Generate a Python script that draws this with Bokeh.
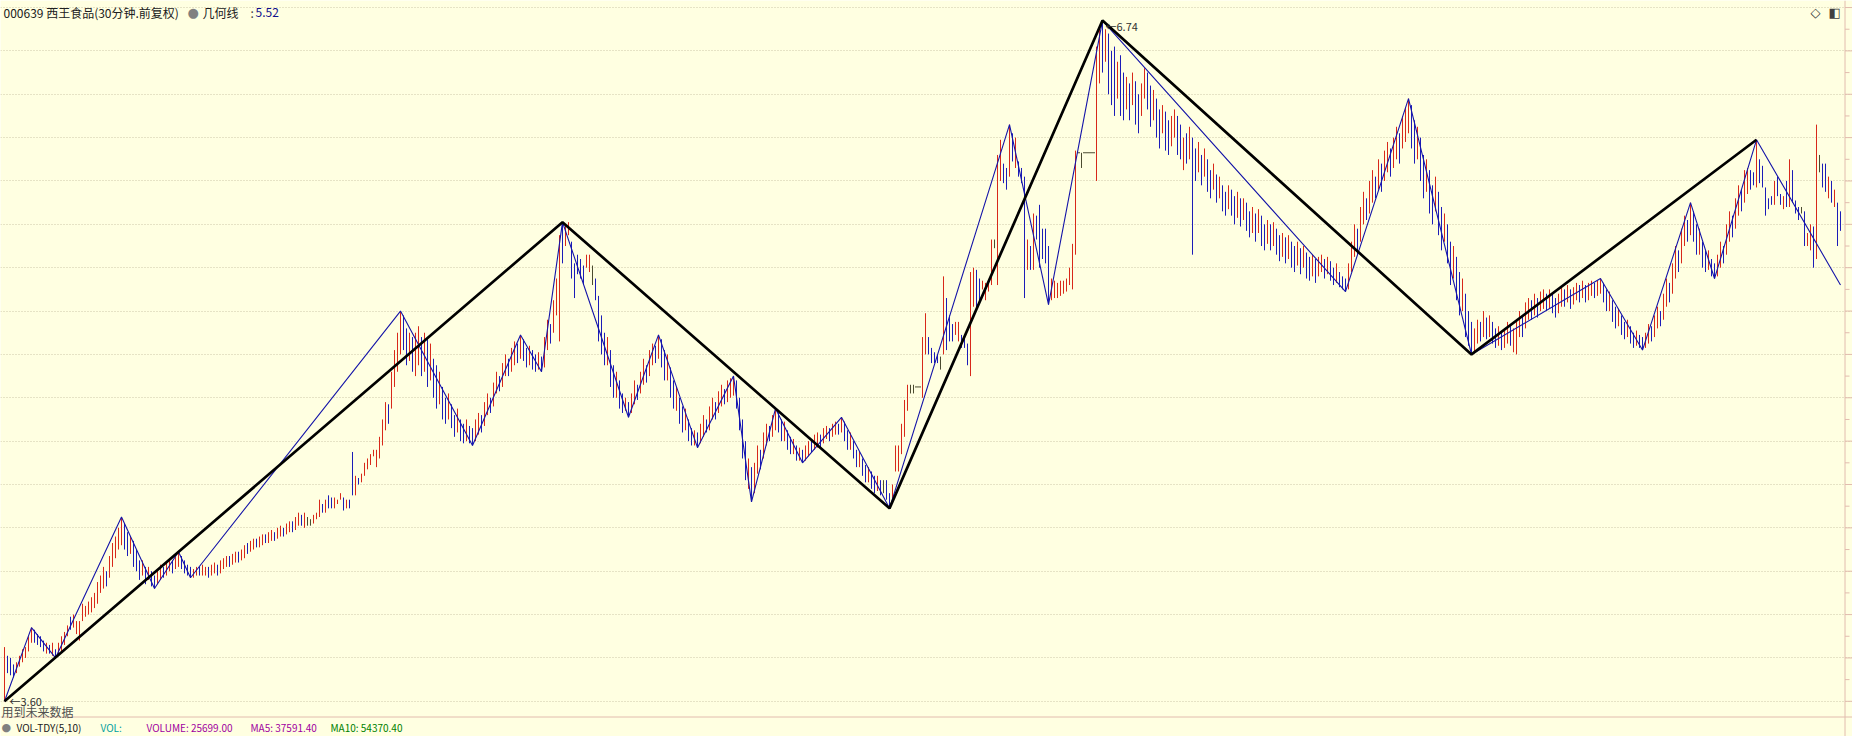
from bokeh.plotting import figure
from bokeh.models import Range1d, Label, Span, FixedTicker, Grid, ColumnDataSource
from bokeh.embed import file_html
from bokeh.resources import INLINE

# ---------------- data (30-minute bars) ----------------
bar_high = [
    3.85, 3.81, 3.80, 3.77, 3.78, 3.81, 3.84, 3.85, 3.90, 3.94,
    3.93, 3.91, 3.90, 3.88, 3.87, 3.86, 3.87, 3.84, 3.87, 3.90,
    3.92, 3.95, 3.99, 4.00, 3.97, 3.97, 4.05, 4.04, 4.06, 4.08,
    4.10, 4.15, 4.18, 4.22, 4.20, 4.27, 4.33, 4.36, 4.40, 4.45,
    4.42, 4.38, 4.36, 4.34, 4.30, 4.25, 4.25, 4.22, 4.22, 4.20,
    4.18, 4.20, 4.23, 4.22, 4.24, 4.26, 4.25, 4.27, 4.29, 4.27,
    4.25, 4.23, 4.22, 4.21, 4.22, 4.22, 4.23, 4.22, 4.22, 4.23,
    4.24, 4.23, 4.25, 4.26, 4.27, 4.27, 4.28, 4.29, 4.29, 4.30,
    4.32, 4.33, 4.34, 4.35, 4.35, 4.36, 4.37, 4.37, 4.38, 4.39,
    4.38, 4.40, 4.41, 4.40, 4.42, 4.43, 4.43, 4.45, 4.47, 4.46,
    4.47, 4.45, 4.44, 4.46, 4.47, 4.53, 4.51, 4.53, 4.55, 4.54,
    4.54, 4.53, 4.56, 4.54, 4.53, 4.53, 4.75, 4.64, 4.63, 4.65,
    4.70, 4.72, 4.74, 4.76, 4.76, 4.82, 4.90, 4.98, 4.97, 5.12,
    5.22, 5.30, 5.40, 5.38, 5.32, 5.30, 5.28, 5.30, 5.33, 5.28,
    5.30, 5.27, 5.25, 5.18, 5.15, 5.12, 5.05, 5.00, 5.02, 4.97,
    4.92, 4.95, 4.90, 4.88, 4.90, 4.87, 4.86, 4.90, 4.93, 4.92,
    4.98, 5.02, 5.00, 5.07, 5.12, 5.10, 5.16, 5.20, 5.18, 5.23,
    5.26, 5.25, 5.29, 5.27, 5.23, 5.24, 5.22, 5.20, 5.21, 5.19,
    5.28, 5.36, 5.34, 5.45, 5.55, 5.75, 5.81, 5.80, 5.81, 5.72,
    5.62, 5.66, 5.64, 5.61, 5.66, 5.66, 5.61, 5.55, 5.47, 5.38,
    5.30, 5.28, 5.22, 5.15, 5.12, 5.08, 5.02, 5.00, 4.98, 5.02,
    5.08, 5.06, 5.12, 5.18, 5.15, 5.22, 5.25, 5.24, 5.29, 5.27,
    5.22, 5.20, 5.14, 5.08, 5.05, 5.00, 4.96, 4.95, 4.90, 4.86,
    4.85, 4.84, 4.88, 4.92, 4.90, 4.96, 5.00, 4.98, 5.03, 5.06,
    5.04, 5.08, 5.09, 5.10, 5.08, 5.00, 4.90, 4.80, 4.72, 4.68,
    4.70, 4.78, 4.76, 4.84, 4.88, 4.87, 4.92, 4.95, 4.93, 4.90,
    4.89, 4.85, 4.82, 4.81, 4.78, 4.77, 4.76, 4.78, 4.80, 4.80,
    4.83, 4.84, 4.83, 4.86, 4.87, 4.86, 4.88, 4.89, 4.88, 4.91,
    4.89, 4.85, 4.84, 4.80, 4.76, 4.75, 4.72, 4.69, 4.68, 4.66,
    4.64, 4.64, 4.62, 4.62, 4.62, 4.56, 4.60, 4.78, 4.78, 4.88,
    4.99, 5.06, 5.06, 5.06, 5.05, 5.05, 5.28, 5.39, 5.28, 5.23,
    5.21, 5.20, 5.19, 5.56, 5.46, 5.38, 5.34, 5.35, 5.35, 5.29,
    5.28, 5.25, 5.58, 5.60, 5.59, 5.55, 5.54, 5.53, 5.54, 5.73,
    5.73, 6.12, 6.19, 6.08, 6.06, 6.26, 6.22, 6.20, 6.09, 6.06,
    6.02, 5.73, 5.70, 5.85, 5.84, 5.89, 5.78, 5.78, 5.70, 5.55,
    5.54, 5.53, 5.54, 5.54, 5.55, 5.60, 5.71, 6.14, 6.13, 6.13,
    6.13, 6.13, 6.13, 6.13, 6.62, 6.70, 6.74, 6.70, 6.68, 6.60,
    6.62, 6.55, 6.58, 6.50, 6.48, 6.45, 6.50, 6.46, 6.40, 6.45,
    6.52, 6.50, 6.44, 6.42, 6.38, 6.33, 6.35, 6.32, 6.28, 6.30,
    6.33, 6.30, 6.26, 6.20, 6.22, 6.25, 6.20, 6.15, 6.18, 6.12,
    6.15, 6.10, 6.05, 6.08, 6.03, 6.02, 5.98, 5.95, 5.98, 5.96,
    5.93, 5.95, 5.92, 5.92, 5.90, 5.86, 5.88, 5.85, 5.87, 5.84,
    5.80, 5.82, 5.80, 5.81, 5.78, 5.75, 5.76, 5.74, 5.75, 5.72,
    5.70, 5.72, 5.69, 5.70, 5.67, 5.65, 5.66, 5.64, 5.65, 5.66,
    5.64, 5.65, 5.63, 5.60, 5.62, 5.58, 5.56, 5.55, 5.62, 5.72,
    5.80, 5.78, 5.88, 5.95, 5.92, 6.00, 6.05, 6.02, 6.10, 6.08,
    6.14, 6.18, 6.15, 6.20, 6.25, 6.22, 6.30, 6.34, 6.38, 6.35,
    6.28, 6.25, 6.20, 6.12, 6.10, 6.05, 5.98, 6.02, 5.95, 5.88,
    5.85, 5.80, 5.72, 5.70, 5.65, 5.58, 5.55, 5.48, 5.40, 5.35,
    5.32, 5.36, 5.35, 5.40, 5.37, 5.38, 5.35, 5.32, 5.33, 5.30,
    5.32, 5.35, 5.33, 5.32, 5.36, 5.40, 5.38, 5.44, 5.46, 5.45,
    5.48, 5.46, 5.49, 5.50, 5.48, 5.50, 5.48, 5.46, 5.48, 5.51,
    5.50, 5.52, 5.50, 5.51, 5.53, 5.52, 5.54, 5.52, 5.53, 5.54,
    5.53, 5.54, 5.55, 5.53, 5.50, 5.49, 5.45, 5.42, 5.41, 5.38,
    5.35, 5.36, 5.33, 5.30, 5.31, 5.29, 5.28, 5.30, 5.34, 5.33,
    5.38, 5.42, 5.40, 5.48, 5.55, 5.53, 5.62, 5.70, 5.68, 5.78,
    5.84, 5.82, 5.90, 5.86, 5.80, 5.78, 5.72, 5.68, 5.68, 5.64,
    5.62, 5.66, 5.72, 5.70, 5.80, 5.86, 5.84, 5.92, 5.98, 5.96,
    6.05, 6.06, 6.05, 6.04, 6.19, 6.10, 6.07, 5.97, 5.92, 5.93,
    6.00, 6.02, 5.94, 5.93, 6.00, 6.10, 6.05, 5.91, 5.88, 5.88,
    5.86, 5.76, 5.80, 5.79, 6.26, 6.12, 6.08, 6.08, 6.02, 6.00,
    5.96, 5.90, 5.86,
]
bar_low = [
    3.60, 3.73, 3.72, 3.71, 3.73, 3.76, 3.78, 3.80, 3.83, 3.87,
    3.87, 3.86, 3.85, 3.83, 3.82, 3.82, 3.81, 3.80, 3.81, 3.83,
    3.86, 3.90, 3.93, 3.94, 3.91, 3.88, 3.97, 3.99, 4.00, 4.01,
    4.03, 4.05, 4.10, 4.12, 4.13, 4.17, 4.22, 4.26, 4.30, 4.32,
    4.30, 4.27, 4.28, 4.22, 4.20, 4.16, 4.18, 4.14, 4.16, 4.13,
    4.12, 4.14, 4.16, 4.17, 4.18, 4.20, 4.19, 4.21, 4.22, 4.21,
    4.19, 4.18, 4.17, 4.17, 4.18, 4.18, 4.18, 4.18, 4.17, 4.18,
    4.19, 4.18, 4.19, 4.21, 4.22, 4.22, 4.23, 4.24, 4.24, 4.25,
    4.26, 4.28, 4.29, 4.30, 4.31, 4.31, 4.32, 4.33, 4.33, 4.34,
    4.34, 4.35, 4.36, 4.36, 4.37, 4.38, 4.38, 4.39, 4.41, 4.41,
    4.40, 4.41, 4.41, 4.42, 4.44, 4.45, 4.47, 4.47, 4.49, 4.49,
    4.49, 4.51, 4.53, 4.48, 4.49, 4.49, 4.55, 4.55, 4.60, 4.61,
    4.64, 4.67, 4.69, 4.73, 4.68, 4.72, 4.78, 4.85, 4.88, 4.95,
    5.05, 5.12, 5.20, 5.22, 5.15, 5.17, 5.12, 5.10, 5.15, 5.10,
    5.12, 5.05, 5.08, 5.00, 4.95, 4.97, 4.90, 4.88, 4.90, 4.86,
    4.82, 4.84, 4.80, 4.79, 4.80, 4.79, 4.78, 4.80, 4.83, 4.84,
    4.87, 4.92, 4.93, 4.96, 5.02, 5.03, 5.05, 5.10, 5.10, 5.12,
    5.15, 5.16, 5.18, 5.17, 5.14, 5.15, 5.13, 5.12, 5.13, 5.12,
    5.14, 5.22, 5.25, 5.30, 5.38, 5.26, 5.62, 5.70, 5.75, 5.55,
    5.46, 5.57, 5.55, 5.52, 5.60, 5.58, 5.52, 5.45, 5.26, 5.20,
    5.15, 5.15, 5.05, 5.00, 5.00, 4.95, 4.93, 4.94, 4.91, 4.93,
    4.97, 4.99, 5.02, 5.06, 5.07, 5.10, 5.15, 5.16, 5.18, 5.14,
    5.08, 5.08, 5.00, 4.95, 4.94, 4.88, 4.84, 4.85, 4.80, 4.78,
    4.78, 4.77, 4.79, 4.82, 4.84, 4.85, 4.90, 4.90, 4.93, 4.96,
    4.97, 4.98, 5.00, 5.01, 4.95, 4.85, 4.72, 4.62, 4.58, 4.52,
    4.56, 4.65, 4.67, 4.72, 4.78, 4.80, 4.82, 4.85, 4.84, 4.80,
    4.80, 4.76, 4.74, 4.74, 4.71, 4.71, 4.70, 4.71, 4.73, 4.75,
    4.76, 4.77, 4.77, 4.79, 4.81, 4.80, 4.82, 4.83, 4.83, 4.84,
    4.80, 4.76, 4.76, 4.72, 4.68, 4.68, 4.64, 4.61, 4.61, 4.58,
    4.56, 4.57, 4.55, 4.56, 4.53, 4.49, 4.51, 4.66, 4.66, 4.74,
    4.82, 4.94, 5.02, 5.02, 5.05, 5.05, 5.00, 5.20, 5.20, 5.16,
    5.16, 5.16, 5.13, 5.20, 5.22, 5.26, 5.26, 5.29, 5.26, 5.23,
    5.23, 5.15, 5.10, 5.42, 5.40, 5.45, 5.50, 5.45, 5.49, 5.52,
    5.69, 5.52, 6.00, 5.99, 5.96, 6.02, 6.09, 6.06, 6.02, 5.99,
    5.46, 5.59, 5.59, 5.59, 5.73, 5.60, 5.64, 5.62, 5.43, 5.45,
    5.46, 5.46, 5.47, 5.48, 5.49, 5.52, 5.50, 5.66, 6.13, 6.06,
    6.13, 6.13, 6.13, 6.13, 6.00, 6.45, 6.50, 6.55, 6.40, 6.35,
    6.30, 6.38, 6.30, 6.28, 6.33, 6.28, 6.35, 6.26, 6.22, 6.30,
    6.38, 6.33, 6.25, 6.28, 6.20, 6.15, 6.22, 6.14, 6.12, 6.16,
    6.20, 6.12, 6.10, 6.05, 6.08, 6.10, 5.66, 6.00, 6.04, 5.98,
    6.02, 5.95, 5.92, 5.96, 5.90, 5.92, 5.86, 5.84, 5.87, 5.84,
    5.80, 5.83, 5.79, 5.82, 5.77, 5.74, 5.76, 5.72, 5.76, 5.70,
    5.68, 5.71, 5.68, 5.70, 5.66, 5.63, 5.65, 5.62, 5.64, 5.60,
    5.58, 5.61, 5.57, 5.60, 5.55, 5.54, 5.56, 5.53, 5.56, 5.58,
    5.55, 5.57, 5.54, 5.52, 5.53, 5.51, 5.50, 5.49, 5.50, 5.58,
    5.65, 5.66, 5.72, 5.80, 5.82, 5.85, 5.90, 5.92, 5.96, 5.95,
    6.00, 6.04, 6.02, 6.06, 6.10, 6.08, 6.15, 6.18, 6.22, 6.15,
    6.08, 6.10, 6.00, 5.92, 5.95, 5.85, 5.80, 5.86, 5.75, 5.68,
    5.72, 5.62, 5.52, 5.55, 5.45, 5.38, 5.40, 5.28, 5.24, 5.20,
    5.21, 5.25, 5.26, 5.28, 5.27, 5.28, 5.25, 5.23, 5.24, 5.22,
    5.23, 5.25, 5.24, 5.21, 5.20, 5.28, 5.28, 5.32, 5.36, 5.36,
    5.38, 5.37, 5.40, 5.41, 5.40, 5.41, 5.39, 5.37, 5.39, 5.42,
    5.42, 5.44, 5.41, 5.43, 5.45, 5.44, 5.46, 5.44, 5.45, 5.47,
    5.46, 5.47, 5.48, 5.44, 5.40, 5.40, 5.35, 5.32, 5.33, 5.29,
    5.27, 5.28, 5.25, 5.23, 5.24, 5.23, 5.22, 5.23, 5.25, 5.26,
    5.28, 5.32, 5.33, 5.36, 5.42, 5.44, 5.48, 5.55, 5.58, 5.62,
    5.70, 5.72, 5.75, 5.72, 5.66, 5.66, 5.60, 5.58, 5.59, 5.56,
    5.55, 5.56, 5.60, 5.62, 5.66, 5.72, 5.74, 5.78, 5.84, 5.86,
    5.90, 5.94, 5.96, 5.98, 5.97, 5.99, 5.97, 5.84, 5.87, 5.89,
    5.89, 5.93, 5.89, 5.87, 5.88, 5.88, 5.90, 5.85, 5.82, 5.85,
    5.70, 5.70, 5.68, 5.60, 5.64, 6.04, 5.97, 5.95, 5.92, 5.90,
    5.88, 5.70, 5.77,
]
bar_kind = (
    "rbbbrrrrrr" "bbbbrbrbrr" "rrbrrrrrrr" "rrrrbrrrrr" "bbrbbbrbrb"
    "brrbrrbrrb" "bbbrrbrrbr" "rbrrrbrrbr" "rbrrbrrbrr" "brrbrrbrrb"
    "rddrrrbrbb" "rrrbrbbrbr" "rrrrrrrrbr" "rrrbbrbrrb" "rbrbbrbbrb"
    "brbbrbbrrb" "rrbrrbrrbr" "rbrbbrbbrb" "rrbrrrbrrb" "bbbbrrdbbb"
    "brbbrbbrbr" "rbrrbrrbrb" "brbbrbbrbb" "rbrrbrrbrr" "brrrbbbbrb"
    "rrbrrbrrbb" "rbbrbrbrrb" "rrbrrbrrbr" "bbrbbrbbrb" "brbdbbrrrr"
    "rrddddrrbb" "bbdrbbbrrb" "bbrrbbrrrr" "drrbbrbrbb" "brbrbbbbbr"
    "rrrrrrrrdd" "ddddrrbrbb" "brbbrbrbbr" "rbbrbbrbbr" "rbbrbrbbrb"
    "rbbrbrbbrb" "brbrbbrbrb" "brbrbbrbrb" "brbrbbrbrr" "brbbrbbbrr"
    "rbrrbrrbrb" "rrbrrbrrrb" "brbbrbbrbb" "rbbrbbrbbb" "rrbrbrbbrb"
    "rrbrrrbrrb" "rbrrbrbbrr" "brbrrbrbrr" "brrbbrbbrb" "brbbrbbrrb"
    "rrbrrbrrbr" "rbrbbrbbrb" "brrbrrbrrb" "rrbbrbbbbb" "rbbrbrbbbd"
    "brrbrdbbrb" "rbb"
)

blue_idx = [0, 9, 17, 39, 50, 58, 62, 132, 156, 172, 179, 186, 208, 218, 231, 243, 249, 257, 266, 279,
            295, 335, 348, 366, 447, 468, 489, 532, 546, 562, 570, 584, 612]
blue_px = [3.60, 3.94, 3.80, 4.45, 4.12, 4.29, 4.17, 5.40, 4.78, 5.29, 5.12, 5.81, 4.91, 5.29, 4.77, 5.10,
           4.52, 4.95, 4.70, 4.91, 4.49, 6.26, 5.43, 6.74, 5.49, 6.38, 5.20, 5.55, 5.22, 5.90, 5.55, 6.19, 5.52]
black_idx = [0, 186, 295, 366, 489, 584]
black_px = [3.60, 5.81, 4.49, 6.74, 5.20, 6.19]

grid_prices = [3.6, 3.8, 4.0, 4.2, 4.4, 4.6, 4.8, 5.0, 5.2, 5.4, 5.6, 5.8, 6.0, 6.2, 6.4, 6.6, 6.8]

title_text = "000639 西王食品(30分钟.前复权)"
ind_name = "几何线"
ind_value = "5.52"
high_label = "←6.74"
low_label = "←3.60"
warn_text = "用到未来数据"
vol_texts = [("VOL-TDY(5,10)", "#202020"), ("VOL:", "#00a0a0"), ("VOLUME: 25699.00", "#a000a0"),
             ("MA5: 37591.40", "#a000a0"), ("MA10: 54370.40", "#008000")]

# ---------------- layout ----------------
W, H = 1852, 736
STEP = 3.0                      # px per bar
x_start = -4.0 / STEP           # first bar 4 px from the left edge
x_end = x_start + W / STEP
PPU = 216.8                     # px per price unit
y_top = 3.6 + 700.8 / PPU       # price 3.60 sits 700.8 px from the top
y_bot = y_top - H / PPU


def xd(fx):
    return x_start + fx / STEP


def yd(fy):
    return y_top - fy / PPU


BG = "#FFFFE1"
p = figure(width=W, height=H, output_backend="svg", toolbar_location=None,
           x_range=Range1d(x_start, x_end), y_range=Range1d(y_bot, y_top),
           x_axis_location=None, y_axis_location=None, min_border=0,
           background_fill_color=BG, border_fill_color=BG, outline_line_color=None)
p.center = [c for c in p.center if not isinstance(c, Grid)]

g = Grid(dimension=1, ticker=FixedTicker(ticks=grid_prices), grid_line_color="#cdc6a8",
         grid_line_dash="1 2", grid_line_width=1)
p.add_layout(g)

# right scale line with ticks, and bottom separator
AX = "#e2bcae"
xr = xd(1844.5)
p.add_layout(Span(location=xr, dimension="height", line_color=AX, line_width=1))
p.segment(x0=[xr] * len(grid_prices), y0=grid_prices, x1=[xd(1852)] * len(grid_prices), y1=grid_prices,
          line_color=AX, line_width=1)
mid = [v + 0.1 for v in grid_prices]
p.segment(x0=[xr] * len(mid), y0=mid, x1=[xd(1849)] * len(mid), y1=mid, line_color=AX, line_width=1)
p.add_layout(Span(location=yd(716.5), dimension="width", line_color=AX, line_width=1))

# bars (high-low lines)
COL = {"r": "#d8281a", "b": "#1c1cb8", "d": "#4b4b30"}
n = len(bar_high)
src = ColumnDataSource(dict(x=list(range(n)), hi=bar_high, lo=bar_low, c=[COL[k] for k in bar_kind[:n]]))
p.segment(x0="x", y0="lo", x1="x", y1="hi", line_color="c", line_width=1, source=src)
flat = [i for i in range(n) if bar_high[i] - bar_low[i] < 0.005]
if flat:
    p.rect(x=flat, y=[bar_high[i] for i in flat], width=1.0, height=1, height_units="screen",
           fill_color="#4b4b30", line_color=None)

# zigzag lines
p.line(blue_idx, blue_px, line_color="#1414a8", line_width=1.1)
p.line(black_idx, black_px, line_color="#000000", line_width=2.7)


def lab(text, fx, fy_base, color, size="12px", font="Noto Sans CJK SC"):
    p.add_layout(Label(x=fx, y=H - fy_base, x_units="screen", y_units="screen", text=text,
                       text_color=color, text_font_size=size, text_font=font,
                       text_baseline="alphabetic", text_align="left"))


lab(title_text, 3, 12, "#202020")
lab("●", 187, 12, "#808080", "13px", "DejaVu Sans")
lab(ind_name, 202, 12, "#202020")
lab(":", 250, 12, "#404040")
lab(ind_value, 255, 12, "#10108c")
lab("◇", 1810, 12, "#303030", "13px", "DejaVu Sans")
lab("◧", 1828, 12, "#404040", "13px", "DejaVu Sans")

p.add_layout(Label(x=black_idx[3], y=black_px[3], text=high_label, text_color="#303030",
                   text_font_size="11px", text_font="Noto Sans CJK SC", text_baseline="middle",
                   x_offset=3, y_offset=-5))
p.add_layout(Label(x=black_idx[0], y=black_px[0], text=low_label, text_color="#303030",
                   text_font_size="11px", text_font="Noto Sans CJK SC", text_baseline="middle",
                   x_offset=5, y_offset=0))
lab(warn_text, 1, 711, "#505050", "12px")

# volume header
lab("●", 1, 727, "#808080", "11px", "DejaVu Sans")
vx = [16, 100, 146, 250, 330]
for (t, c), fx in zip(vol_texts, vx):
    lab(t, fx, 727, c, "10px")

open("out.html", "w").write(file_html(p, INLINE))
